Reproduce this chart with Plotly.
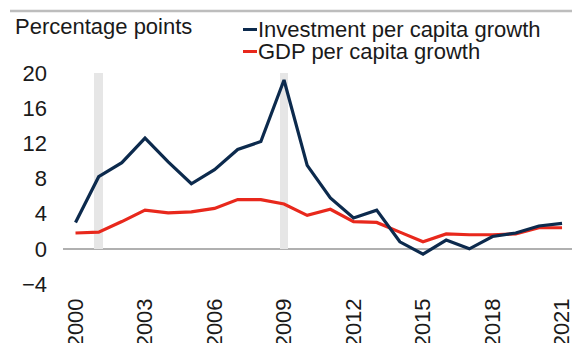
import plotly.graph_objects as go

# Annual growth, percentage points
years = list(range(2000, 2022))
investment_pc_growth = [3.0, 8.2, 9.8, 12.6, 9.9, 7.4, 9.0, 11.3, 12.2, 19.2, 9.5,
                        5.8, 3.5, 4.4, 0.8, -0.6, 1.0, 0.0, 1.4, 1.8, 2.6, 2.9]
gdp_pc_growth = [1.8, 1.9, 3.1, 4.4, 4.1, 4.2, 4.6, 5.6, 5.6, 5.1, 3.8,
                 4.5, 3.1, 3.0, 1.9, 0.8, 1.7, 1.6, 1.6, 1.7, 2.4, 2.4]

# Highlighted years (shaded columns)
shade_years = [2001, 2009]
shade_height = [20, 20]

y_ticks = [-4, 0, 4, 8, 12, 16, 20]
x_ticks = [2000, 2003, 2006, 2009, 2012, 2015, 2018, 2021]

NAVY = "#0c2a4d"
RED = "#e8281c"
FONT = "Liberation Sans, Arial, sans-serif"
TEXT = "#1a1a1a"
FS = 22

fig = go.Figure()
fig.add_trace(go.Bar(x=shade_years, y=shade_height, width=0.38,
                     marker=dict(color="#e6e6e6", line=dict(width=0)),
                     showlegend=False, hoverinfo="skip"))
fig.add_trace(go.Scatter(x=years, y=gdp_pc_growth, mode="lines",
                         line=dict(color=RED, width=3.2), name="GDP per capita growth",
                         showlegend=False))
fig.add_trace(go.Scatter(x=years, y=investment_pc_growth, mode="lines",
                         line=dict(color=NAVY, width=3.2), name="Investment per capita growth",
                         showlegend=False))

# plot area in pixels: left 63, right 572, top 73, bottom 284
L, R, T, B = 63, 572, 73, 284
def px(x):
    return (x - L) / (R - L)
def py(y):
    return (B - y) / (B - T)

shapes = [
    dict(type="line", xref="paper", yref="paper", x0=px(10), x1=px(572), y0=py(11), y1=py(11),
         line=dict(color="#bdbdbd", width=2.5), layer="above"),
    dict(type="line", xref="paper", yref="paper", x0=px(243), x1=px(257), y0=py(29.5), y1=py(29.5),
         line=dict(color=NAVY, width=3)),
    dict(type="line", xref="paper", yref="paper", x0=px(243), x1=px(257), y0=py(51.5), y1=py(51.5),
         line=dict(color=RED, width=3)),
]

annotations = [
    dict(text="Percentage points", xref="paper", yref="paper", x=px(13), y=py(27),
         xanchor="left", yanchor="middle", showarrow=False, font=dict(size=FS, color=TEXT, family=FONT)),
    dict(text="Investment per capita growth", xref="paper", yref="paper", x=px(256), y=py(29.5),
         xanchor="left", yanchor="middle", showarrow=False,
         font=dict(size=FS, color=TEXT, family=FONT)),
    dict(text="GDP per capita growth", xref="paper", yref="paper", x=px(256), y=py(51.5),
         xanchor="left", yanchor="middle", showarrow=False,
         font=dict(size=FS, color=TEXT, family=FONT)),
]

fig.update_layout(
    width=574, height=343,
    margin=dict(l=L, r=574 - R, t=T, b=343 - B, autoexpand=False),
    paper_bgcolor="white", plot_bgcolor="white",
    font=dict(family=FONT, size=FS, color=TEXT),
    showlegend=False,
    shapes=shapes, annotations=annotations,
    bargap=0,
)
fig.update_xaxes(range=[1999.46, 2021.43], tickvals=x_ticks, ticktext=[str(v) for v in x_ticks],
                 tickangle=-90, showgrid=False, zeroline=False, showline=False, ticks="",
                 ticklabelstandoff=9, automargin=False, ticklabeloverflow="allow")
fig.update_yaxes(range=[-4, 20], tickvals=y_ticks, showgrid=False, zeroline=True,
                 zerolinecolor="#b0b0b0", zerolinewidth=1.5, showline=False, ticks="",
                 ticklabelstandoff=15, automargin=False)

fig.write_html("out.html")
